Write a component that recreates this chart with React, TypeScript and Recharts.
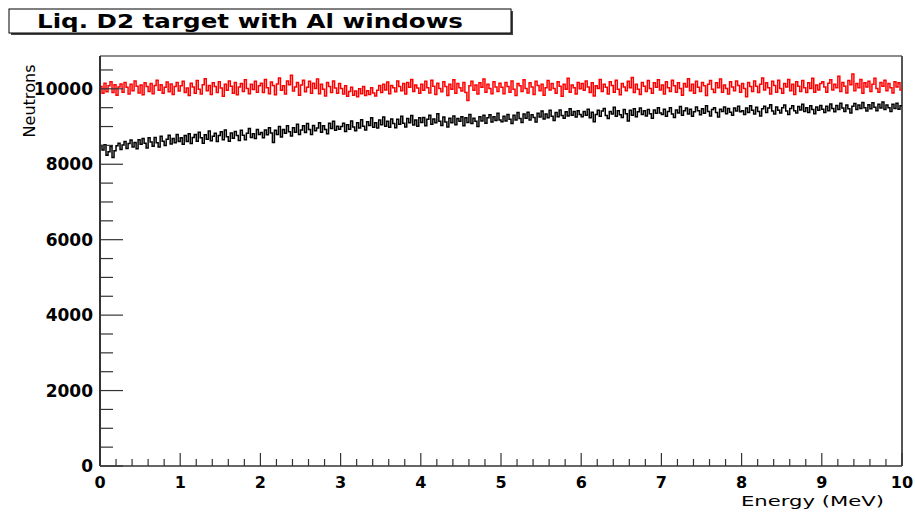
import { Line, LineChart, ReferenceLine, XAxis, YAxis } from "recharts";

// counts per bin, red histogram (40 bins per MeV row)
const redCounts = [
  10060, 9880, 10150, 9920, 10080, 10190, 9900, 10110, 9830, 10050, 10130, 9910, 10170, 10040, 9860, 10120, 9950, 10210, 10070, 9890, 10100, 9840, 10160, 10060, 9930, 10140, 9870, 10090, 10230, 9960, 10110, 9880, 10040, 10180, 9920, 10130, 9850, 10060, 10170, 9940,
  10080, 10200, 9900, 10020, 9820, 10150, 10050, 9880, 10220, 9990, 9860, 10110, 10270, 9950, 10090, 9850, 10160, 10060, 9900, 10190, 10020, 9800, 10120, 9960, 10210, 10070, 9880, 10170, 9840, 10050, 10140, 9930, 10240, 10010, 9870, 10120, 9980, 10200, 9910, 10080,
  10150, 9900, 10250, 10030, 9870, 10180, 10090, 9840, 10130, 10290, 9960, 10080, 9860, 10210, 10110, 10360, 9940, 10050, 10170, 9830, 10100, 10230, 9920, 10040, 10200, 9880, 10150, 10010, 10260, 9870, 10120, 9990, 9810, 10170, 10060, 9900, 10210, 10020, 9880, 10140,
  10010, 9860, 10080, 9800, 9930, 10040, 9830, 9940, 9790, 10000, 9870, 10060, 9820, 9950, 9850, 10030, 9890, 9810, 9960, 10090, 9900, 10120, 9970, 10180, 9870, 10090, 10030, 9920, 10210, 10060, 9950, 10140, 9860, 10170, 10040, 10250, 9930, 10100, 10020, 9880,
  10120, 9960, 10200, 10030, 9890, 10230, 10070, 9850, 10150, 10010, 9920, 10190, 10060, 9820, 10120, 9990, 10240, 9880, 10140, 10030, 9940, 10170, 9900, 9690, 10080, 10200, 9960, 10100, 9860, 10160, 10040, 10260, 9910, 10120, 10010, 9870, 10190, 10050, 9930, 10150,
  10040, 9870, 10170, 10060, 9910, 10210, 9990, 9820, 10140, 10080, 9930, 10240, 10010, 9890, 10160, 10050, 9850, 10200, 10090, 9950, 10120, 9830, 10030, 10220, 9970, 10140, 10010, 9880, 10190, 10070, 9800, 10120, 9990, 10280, 9910, 10100, 10030, 9860, 10170, 10000,
  10140, 9960, 10210, 10050, 9900, 10160, 9810, 10080, 10010, 10250, 9930, 10120, 10040, 9860, 10190, 10090, 9910, 10230, 9990, 9840, 10140, 10050, 9950, 10200, 10030, 10300, 9900, 10120, 9990, 9850, 10170, 10070, 9930, 10220, 10010, 9880, 10160, 10040, 10240, 9970,
  10100, 9860, 10190, 10030, 9930, 10230, 10080, 9910, 10160, 10010, 9830, 10140, 10050, 10270, 9950, 10120, 9880, 10200, 10040, 9930, 10170, 10080, 9820, 10120, 10220, 9990, 9900, 10160, 10030, 10260, 9910, 10100, 10010, 9860, 10190, 10050, 9950, 10210, 10090, 9910,
  10140, 10010, 9790, 10170, 10060, 9930, 10210, 10070, 9900, 10120, 10290, 9970, 10160, 10030, 9860, 10200, 10090, 9910, 10230, 10010, 9880, 10140, 10050, 10250, 9950, 10120, 9850, 10190, 10070, 9930, 10220, 10030, 9900, 10160, 10010, 10280, 9910, 10100, 9970, 10140,
  10190, 10050, 9910, 10150, 10240, 9970, 10120, 10030, 10330, 9930, 10170, 10070, 9890, 10220, 10110, 10390, 9950, 10140, 10030, 10250, 9880, 10160, 10050, 10200, 9930, 10120, 10280, 10010, 9910, 10170, 10070, 10230, 9950, 10140, 10030, 9890, 10190, 10050, 10160, 9970,
];

// counts per bin, black histogram
const blackCounts = [
  8500, 8380, 8520, 8240, 8330, 8470, 8180, 8360, 8490, 8560, 8390, 8510, 8600, 8420, 8550, 8640, 8460, 8580, 8410, 8650, 8530, 8680, 8560, 8430, 8700, 8590, 8480, 8710, 8570, 8460, 8740, 8610, 8500, 8660, 8770, 8540, 8680, 8570, 8790, 8600,
  8700, 8530, 8760, 8600, 8810, 8550, 8710, 8790, 8610, 8850, 8700, 8560, 8780, 8660, 8880, 8620, 8740, 8820, 8600, 8760, 8860, 8650, 8910, 8730, 8610, 8830, 8690, 8870, 8760, 8630, 8900, 8770, 8650, 8820, 8950, 8710, 8810, 8680, 8920, 8790,
  8840, 8700, 8910, 8780, 8970, 8830, 8580, 8900, 8790, 9000, 8720, 8920, 8820, 9020, 8860, 8750, 8970, 8850, 9060, 8790, 8910, 9020, 8840, 9080, 8920, 8790, 9030, 8890, 8960, 9100, 8850, 9020, 8920, 8810, 9090, 8950, 9140, 8900, 9010, 8930,
  9000, 9090, 8870, 9050, 8930, 9150, 8990, 8890, 9100, 8960, 9180, 9010, 8910, 9130, 9030, 9230, 8980, 9100, 8960, 9170, 9050, 9250, 9010, 9140, 8980, 9200, 9080, 8970, 9190, 9060, 9270, 9090, 8990, 9210, 9100, 9290, 9040, 9170, 9010, 9230,
  9110, 9240, 9020, 9190, 9300, 9060, 9200, 9100, 9340, 9140, 9030, 9250, 9120, 8990, 9220, 9100, 9280, 9050, 9210, 9140, 9260, 9020, 9230, 9110, 9320, 9080, 9220, 9140, 9000, 9260, 9150, 9300, 9090, 9230, 9310, 9120, 9260, 9160, 9350, 9170,
  9130, 9270, 9150, 9320, 9190, 9080, 9300, 9170, 9370, 9210, 9110, 9330, 9220, 9380, 9170, 9310, 9240, 9120, 9350, 9250, 9410, 9200, 9330, 9230, 9430, 9270, 9160, 9370, 9260, 9440, 9290, 9220, 9390, 9280, 9470, 9300, 9400, 9250, 9420, 9320,
  9260, 9400, 9300, 9460, 9230, 9380, 9130, 9320, 9430, 9270, 9410, 9480, 9290, 9210, 9400, 9330, 9510, 9270, 9420, 9310, 9240, 9450, 9340, 9150, 9430, 9300, 9470, 9260, 9390, 9490, 9320, 9420, 9280, 9450, 9340, 9220, 9440, 9350, 9500, 9360,
  9320, 9460, 9270, 9400, 9500, 9330, 9240, 9440, 9360, 9530, 9300, 9420, 9490, 9330, 9460, 9270, 9390, 9520, 9420, 9310, 9470, 9350, 9550, 9400, 9280, 9450, 9500, 9370, 9250, 9460, 9400, 9520, 9340, 9480, 9380, 9300, 9490, 9410, 9540, 9390,
  9420, 9320, 9490, 9370, 9550, 9430, 9330, 9510, 9400, 9280, 9470, 9540, 9370, 9490, 9580, 9410, 9330, 9520, 9430, 9360, 9500, 9570, 9410, 9320, 9480, 9550, 9420, 9360, 9530, 9440, 9590, 9400, 9500, 9370, 9550, 9450, 9340, 9520, 9430, 9560,
  9460, 9370, 9540, 9420, 9600, 9480, 9390, 9560, 9450, 9620, 9490, 9400, 9570, 9470, 9360, 9540, 9610, 9450, 9570, 9480, 9640, 9500, 9410, 9580, 9470, 9630, 9510, 9420, 9590, 9490, 9650, 9450, 9570, 9500, 9400, 9590, 9480, 9620, 9460, 9550,
];

const E_MAX = 10;
const Y_MAX = 10870;
const xTicks = Array.from({ length: 51 }, (_, i) => +(i * 0.2).toFixed(1));
const yTicks = Array.from({ length: 22 }, (_, i) => i * 500);

// histogram -> step points (bin low edges, plus a closing point at the right edge)
function toSteps(counts: number[]) {
  const w = E_MAX / counts.length;
  const pts = counts.map((c, i) => ({ e: i * w, n: c }));
  pts.push({ e: E_MAX, n: counts[counts.length - 1] });
  return pts;
}

const redData = toSteps(redCounts);
const blackData = toSteps(blackCounts);

const labelFont = "DejaVu Sans, Verdana, sans-serif";
const axisColor = "#333";

function XTick({ x, y, payload }: any) {
  const v = payload.value as number;
  const major = Math.abs(v - Math.round(v)) < 1e-6;
  return (
    <g>
      <line x1={x} y1={y} x2={x} y2={y - (major ? 13 : 7)} stroke={axisColor} strokeWidth={1.2} />
      {major && (
        <text x={x} y={y + 22} textAnchor="middle" fontFamily={labelFont} fontWeight="bold" fontSize={16} fill="#000">
          {Math.round(v)}
        </text>
      )}
    </g>
  );
}

function YTick({ x, y, payload }: any) {
  const v = payload.value as number;
  const major = v % 2000 === 0;
  return (
    <g>
      <line x1={x} y1={y} x2={x + (major ? 23 : 13)} y2={y} stroke={axisColor} strokeWidth={1.2} />
      {major && (
        <text x={x - 7} y={y + 6} textAnchor="end" fontFamily={labelFont} fontWeight="bold" fontSize={17} fill="#000">
          {v}
        </text>
      )}
    </g>
  );
}

export default function App() {
  return (
    <div style={{ position: "absolute", left: 0, top: 0, width: 915, height: 517, background: "#fff" }}>
      <LineChart width={915} height={517} margin={{ top: 56, right: 13, bottom: 0, left: 0 }}>
        <XAxis
          dataKey="e"
          type="number"
          domain={[0, E_MAX]}
          ticks={xTicks}
          interval={0}
          height={51}
          tickSize={0}
          tickMargin={0}
          tickLine={false}
          tick={<XTick />}
          axisLine={{ stroke: axisColor, strokeWidth: 1.5 }}
          allowDataOverflow
        />
        <YAxis
          type="number"
          domain={[0, Y_MAX]}
          ticks={yTicks}
          interval={0}
          width={100}
          tickSize={0}
          tickMargin={0}
          tickLine={false}
          tick={<YTick />}
          axisLine={{ stroke: axisColor, strokeWidth: 2 }}
          allowDataOverflow
        />
        <ReferenceLine y={Y_MAX} stroke="#666" strokeWidth={1.5} />
        <ReferenceLine x={E_MAX} stroke="#555" strokeWidth={2} />
        <Line
          data={blackData}
          type="stepAfter"
          dataKey="n"
          stroke="#000"
          strokeWidth={1.5}
          dot={false}
          isAnimationActive={false}
        />
        <Line
          data={redData}
          type="stepAfter"
          dataKey="n"
          stroke="#ff0000"
          strokeWidth={1.5}
          dot={false}
          isAnimationActive={false}
        />
      </LineChart>
      <svg width={915} height={517} style={{ position: "absolute", left: 0, top: 0, pointerEvents: "none" }}>
        <rect x={11} y={11} width={502} height={24} fill="#444" />
        <rect x={9} y={9} width={502} height={24} fill="#fff" stroke="#000" strokeWidth={1} />
        <text
          x={250}
          y={28}
          textAnchor="middle"
          fontFamily={labelFont}
          fontWeight="bold"
          fontSize={20}
          textLength={426}
          lengthAdjust="spacingAndGlyphs"
          fill="#000"
        >
          Liq. D2 target with Al windows
        </text>
        <text
          transform="translate(35,101) rotate(-90)"
          textAnchor="middle"
          fontFamily={labelFont}
          fontSize={16}
          textLength={73}
          lengthAdjust="spacingAndGlyphs"
          fill="#000"
        >
          Neutrons
        </text>
        <text
          x={884}
          y={506}
          textAnchor="end"
          fontFamily={labelFont}
          fontSize={14.5}
          textLength={143}
          lengthAdjust="spacingAndGlyphs"
          fill="#000"
        >
          Energy (MeV)
        </text>
      </svg>
    </div>
  );
}
